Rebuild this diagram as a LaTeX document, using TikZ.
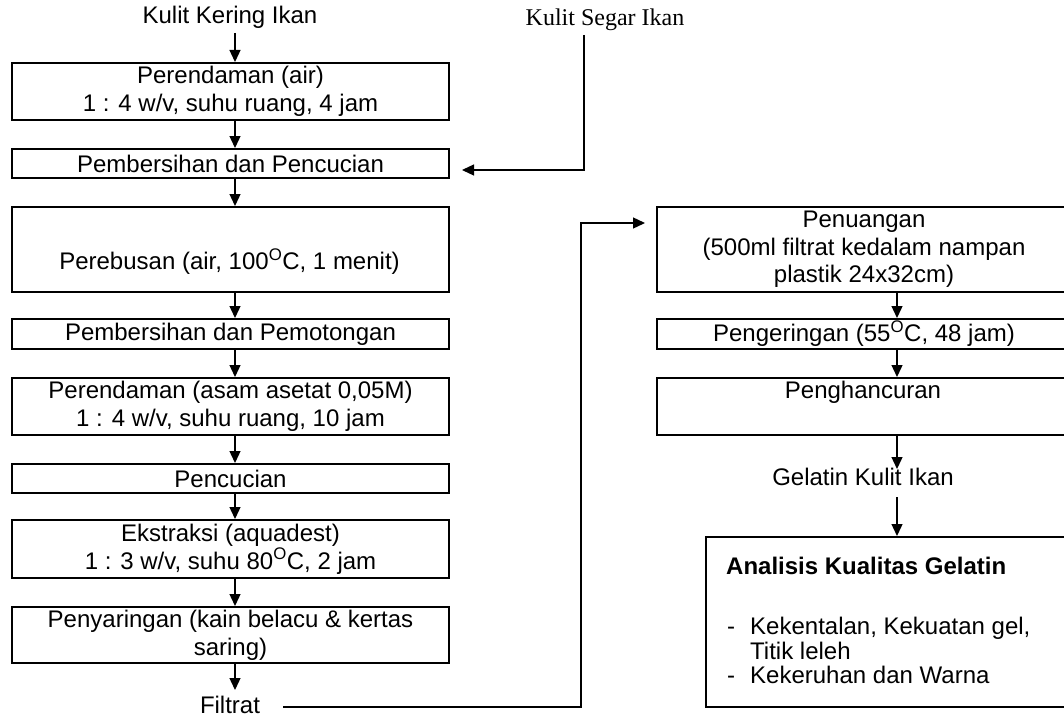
\documentclass[tikz,border=0pt]{standalone}
\usepackage{fontspec}
\setmainfont{Liberation Sans}
\newfontfamily\timesf{Liberation Serif}
\usetikzlibrary{arrows.meta}
\begin{document}
\begin{tikzpicture}[x=1pt,y=-1pt,
  every node/.style={font=\fontsize{24}{27.6}\selectfont, inner sep=0pt},
  box/.style={draw, line width=2pt, minimum width=437pt, align=center, anchor=north west},
  rbox/.style={draw, line width=2pt, minimum width=414pt, align=center, anchor=north west},
  arr/.style={line width=1.3pt, -{Triangle[width=11pt,length=12pt]}}]
\useasboundingbox (0,0) rectangle (1064,717);
\coordinate (lx) at (235,0);
\coordinate (rx) at (897,0);
% left column
\node (kk) at (230,17) {Kulit Kering Ikan};
\node[box, minimum height=57pt] (b1) at (11,62) {Perendaman (air)\\1 : 4 w/v, suhu ruang, 4 jam};
\node[box, minimum height=29pt] (b2) at (11,148) {Pembersihan dan Pencucian};
\node[box, minimum height=85pt] (b3) at (11,206) {};
\node (t3) at (229.5,262) {Perebusan (air, 100\textsuperscript{O}C, 1 menit)};
\node[box, minimum height=30pt] (b4) at (11,318) {Pembersihan dan Pemotongan};
\node[box, minimum height=57pt] (b5) at (11,377) {Perendaman (asam asetat 0,05M)\\1 : 4 w/v, suhu ruang, 10 jam};
\node[box, minimum height=29pt] (b6) at (11,463) {Pencucian};
\node[box, minimum height=58pt] (b7) at (11,519) {Ekstraksi (aquadest)\\1 : 3 w/v, suhu 80\textsuperscript{O}C, 2 jam};
\node[box, minimum height=56pt] (b8) at (11,606) {Penyaringan (kain belacu \& kertas\\saring)};
\node (fil) at (230,705) {Filtrat};
\coordinate (k0) at (235,33);
\coordinate (f0) at (235,690);
\draw[arr] (k0) -- (b1.north -| lx);
\draw[arr] (b1.south -| lx) -- (b2.north -| lx);
\draw[arr] (b2.south -| lx) -- (b3.north -| lx);
\draw[arr] (b3.south -| lx) -- (b4.north -| lx);
\draw[arr] (b4.south -| lx) -- (b5.north -| lx);
\draw[arr] (b5.south -| lx) -- (b6.north -| lx);
\draw[arr] (b6.south -| lx) -- (b7.north -| lx);
\draw[arr] (b7.south -| lx) -- (b8.north -| lx);
\draw[arr] (b8.south -| lx) -- (f0);
% fresh skin input
\node[font=\timesf\fontsize{24}{27.6}\selectfont] (ks) at (605,20) {Kulit Segar Ikan};
\coordinate (s0) at (584,35);
\coordinate (s2) at (462,170);
\draw[arr] (s0) |- (s2);
% right column
\node[rbox, minimum height=85pt] (r1) at (656,206) {Penuangan\\(500ml filtrat kedalam nampan\\plastik 24x32cm)};
\node[rbox, minimum height=30pt] (r2) at (656,318) {Pengeringan (55\textsuperscript{O}C, 48 jam)};
\node[rbox, minimum height=57pt] (r3) at (656,377) {};
\node (t9) at (863,392) {Penghancuran};
\node (gel) at (863,477) {Gelatin Kulit Ikan};
\node[draw, line width=2pt, minimum width=400pt, minimum height=170pt, anchor=north west] (an) at (705,536) {};
\node[anchor=base west, font=\bfseries\fontsize{24}{27.6}\selectfont] (ah) at (726,574) {Analisis Kualitas Gelatin};
\node[anchor=base west] (d1) at (727,634) {-};
\node[anchor=base west] (i1) at (750,634) {Kekentalan, Kekuatan gel,};
\node[anchor=base west] (i2) at (750,659) {Titik leleh};
\node[anchor=base west] (d2) at (727,683) {-};
\node[anchor=base west] (i3) at (750,683) {Kekeruhan dan Warna};
% filtrat to right column
\coordinate (c2) at (581,223);
\coordinate (c3) at (645,223);
\coordinate (fe) at (283,707);
\draw[arr] (fe) -| (c2) -- (c3);
\coordinate (g1) at (897,469);
\coordinate (g2) at (897,497);
\draw[arr] (r1.south -| rx) -- (r2.north -| rx);
\draw[arr] (r2.south -| rx) -- (r3.north -| rx);
\draw[arr] (r3.south -| rx) -- (g1);
\draw[arr] (g2) -- (an.north -| rx);
\end{tikzpicture}
\end{document}
